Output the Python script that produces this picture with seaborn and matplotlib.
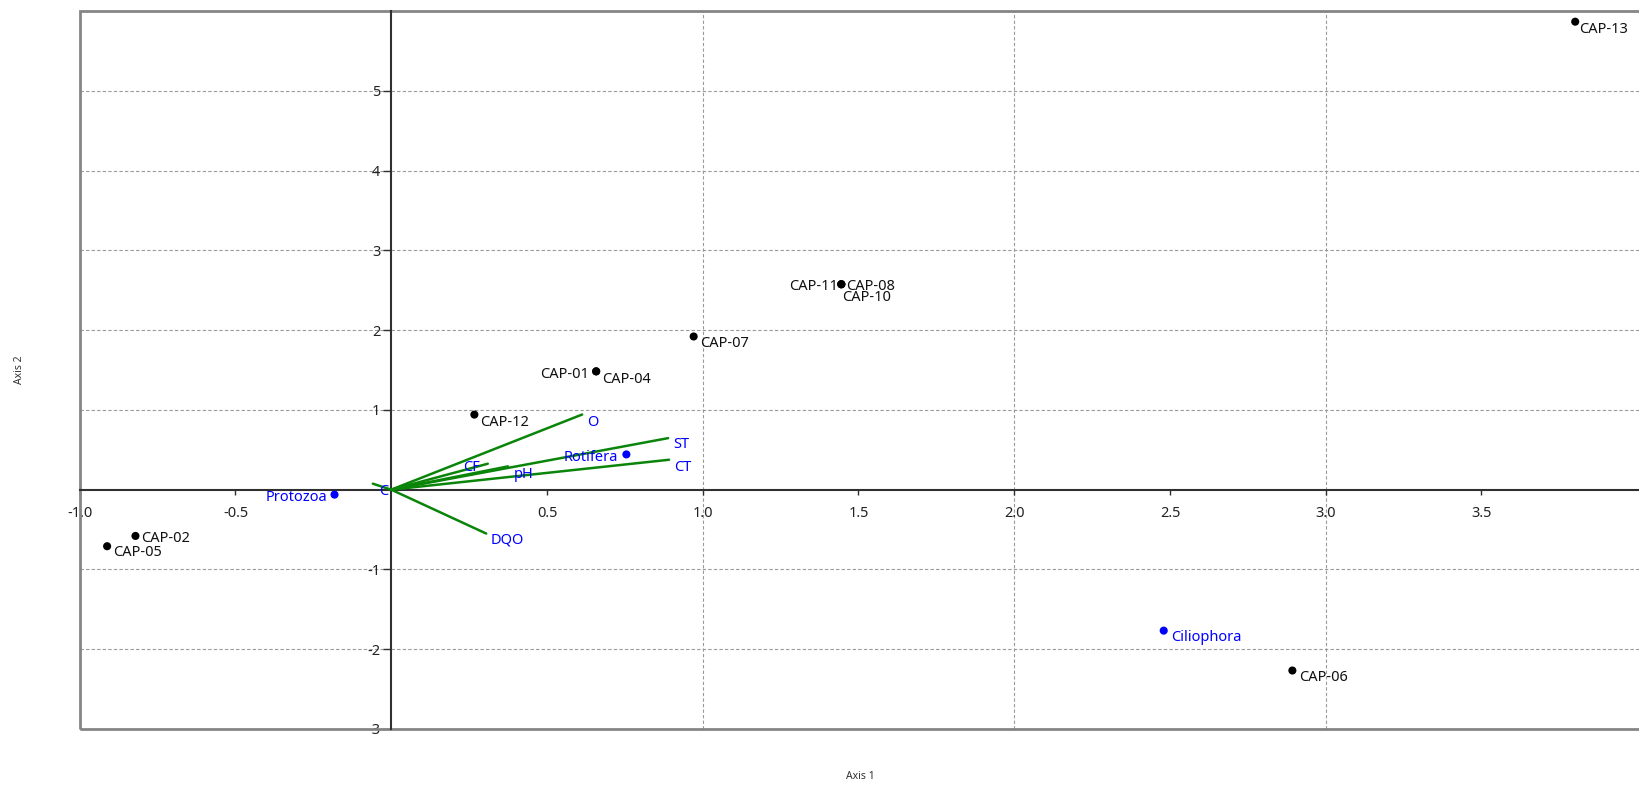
import numpy as np
import pandas as pd
import matplotlib
matplotlib.use("Agg")
import matplotlib.pyplot as plt
from matplotlib.patches import Rectangle
import seaborn as sns

# ---------------- data ----------------
site_names = ["CAP-01", "CAP-04", "CAP-02", "CAP-05", "CAP-06", "CAP-07",
              "CAP-11", "CAP-08", "CAP-10", "CAP-12", "CAP-13"]
site_x = [0.658, 0.658, -0.821, -0.912, 2.893, 0.971, 1.445, 1.445, 1.445, 0.267, 3.801]
site_y = [1.483, 1.483, -0.580, -0.709, -2.267, 1.920, 2.575, 2.575, 2.575, 0.941, 5.866]

species_names = ["Protozoa", "Rotifera", "Ciliophora"]
species_x = [-0.182, 0.755, 2.480]
species_y = [-0.062, 0.442, -1.767]

env_names = ["O", "ST", "CT", "CF", "pH", "DQO", "C"]
env_x = [0.613, 0.889, 0.892, 0.310, 0.375, 0.305, -0.059]
env_y = [0.942, 0.646, 0.375, 0.325, 0.292, -0.550, 0.075]

x_ticks = [-1.0, -0.5, 0.5, 1.0, 1.5, 2.0, 2.5, 3.0, 3.5]
x_tick_labels = ["-1.0", "-0.5", "0.5", "1.0", "1.5", "2.0", "2.5", "3.0", "3.5"]
y_ticks = [-3, -2, -1, 1, 2, 3, 4, 5]
y_tick_labels = ["-3", "-2", "-1", "1", "2", "3", "4", "5"]
x_grid = [1, 2, 3]
y_grid = [-2, -1, 1, 2, 3, 4, 5]

x_title = "Axis 1"
y_title = "Axis 2"

# label placement (ha, dx px, dy px downward to visual centre)
site_lab = {
    "CAP-13": ("left", 4, 6), "CAP-11": ("right", -3.4, 1), "CAP-08": ("left", 5, 1),
    "CAP-10": ("left", 0.6, 11.7), "CAP-07": ("left", 6, 5), "CAP-01": ("right", -6.7, 1.6),
    "CAP-04": ("left", 6, 6), "CAP-12": ("left", 5.7, 6), "CAP-02": ("left", 5.7, 1),
    "CAP-05": ("left", 5.7, 4.7), "CAP-06": ("left", 6.3, 5.3),
}
species_lab = {"Ciliophora": ("left", 7.3, 5.3), "Rotifera": ("right", -8.3, 1),
               "Protozoa": ("right", -7.7, 0.7)}
env_lab = {"O": ("left", 4.7, 6), "ST": ("left", 5, 5), "CT": ("left", 4.7, 5.7),
           "CF": ("right", -7.7, 1.7), "pH": ("left", 5.7, 6.7), "DQO": ("left", 4, 5),
           "C": ("left", 6.7, 6)}

# ---------------- style ----------------
sns.set_theme(style="white")
plt.rcParams["font.family"] = ["Noto Sans", "DejaVu Sans"]

W, H = 1639, 785
fig = plt.figure(figsize=(W / 100, H / 100), dpi=100)
left_px, right_px, top_px, bot_px = 79.7, 1642, 11, 729
ax = fig.add_axes([left_px / W, 1 - bot_px / H, (right_px - left_px) / W, (bot_px - top_px) / H])
ax.set_xlim(-1, -1 + (right_px - left_px) / 311.5)
ax.set_ylim(-3, 6)

# grid
for g in x_grid:
    ax.axvline(g, color="#9a9a9a", lw=0.8, dashes=(3, 2), zorder=0)
for g in y_grid:
    ax.axhline(g, color="#9a9a9a", lw=0.8, dashes=(3, 2), zorder=0)

# frame
ax.add_patch(Rectangle((0, 0), 1, 1, transform=ax.transAxes, fill=False,
                       edgecolor="#858585", lw=2.0, clip_on=False, zorder=1))

# zero axes as spines
for s in ["top", "right"]:
    ax.spines[s].set_visible(False)
ax.spines["left"].set_position(("data", 0))
ax.spines["bottom"].set_position(("data", 0))
for s in ["left", "bottom"]:
    ax.spines[s].set_color("#303030")
    ax.spines[s].set_linewidth(1.5)
    ax.spines[s].set_zorder(2)

ax.set_xticks(x_ticks)
ax.set_xticklabels(x_tick_labels)
ax.set_yticks(y_ticks)
ax.set_yticklabels(y_tick_labels)
ax.tick_params(axis="x", direction="out", length=3.6, width=1.0, pad=8.5,
               labelsize=10.5, colors="#303030", bottom=True)
ax.tick_params(axis="y", direction="out", length=5.8, width=1.0, pad=2.0,
               labelsize=10.5, colors="#303030", left=True)
for lab in ax.get_xticklabels() + ax.get_yticklabels():
    lab.set_color("#222222")

# environmental vectors
rows = []
for n, ex, ey in zip(env_names, env_x, env_y):
    rows.append({"var": n, "x": 0.0, "y": 0.0, "o": 0})
    rows.append({"var": n, "x": ex, "y": ey, "o": 1})
vec = pd.DataFrame(rows)
sns.lineplot(data=vec, x="x", y="y", units="var", estimator=None, sort=False,
             color="#0a850a", lw=1.8, ax=ax, zorder=3, legend=False)

# points
sns.scatterplot(x=site_x, y=site_y, color="black", s=34, edgecolor="none",
                ax=ax, zorder=5, legend=False)
sns.scatterplot(x=species_x, y=species_y, color="#0000ff", s=34, edgecolor="none",
                ax=ax, zorder=5, legend=False)

CAP_HALF = 5.2


def put(name, x, y, spec, color):
    ha, dx, dy = spec
    ax.annotate(name, (x, y), xytext=(dx, -(dy + CAP_HALF)), textcoords="offset pixels",
                ha=ha, va="baseline", fontsize=10.5, color=color, zorder=6)


for n, x, y in zip(site_names, site_x, site_y):
    put(n, x, y, site_lab[n], "#111111")
for n, x, y in zip(species_names, species_x, species_y):
    put(n, x, y, species_lab[n], "#0000ff")
for n, x, y in zip(env_names, env_x, env_y):
    put(n, x, y, env_lab[n], "#0000ff")

ax.set_xlabel(x_title, fontsize=7.5, color="#333333")
ax.set_ylabel(y_title, fontsize=7.5, color="#333333")
ax.xaxis.set_label_coords(0.5, -0.0585)
ax.yaxis.set_label_coords(-0.035, 0.5)

fig.savefig("out.png", dpi=100)
